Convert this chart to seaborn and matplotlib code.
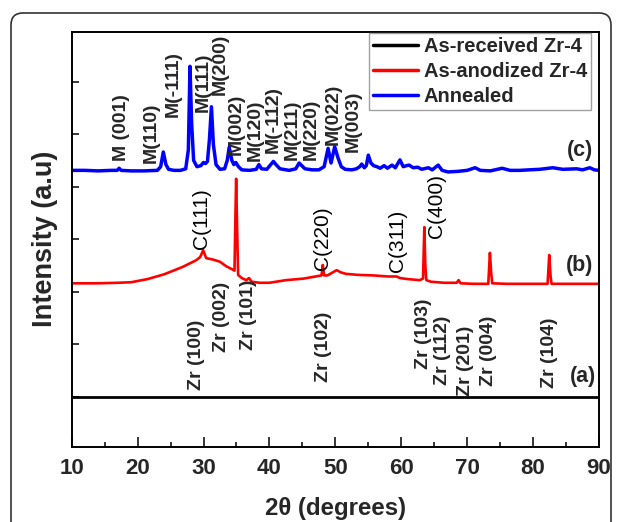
import numpy as np
import pandas as pd
import matplotlib
matplotlib.use("Agg")
import matplotlib.pyplot as plt
from matplotlib.patches import FancyBboxPatch
import seaborn as sns

# ---------------- data ----------------
black_x = [10, 90]
black_y = [1.0, 1.0]

red_x = [10, 14, 17, 19, 21.5, 24, 26.8, 28.9, 29.5, 29.95, 30.4, 31.5, 32.5, 33.5, 34.3, 34.7,
         34.85, 34.95, 35.1, 35.25, 35.8, 36.5, 36.9, 37.3, 38.5, 40, 42.5, 45.2, 47.9, 48.1,
         48.3, 48.8, 49.5, 50.2, 50.8, 51.6, 53.5, 55.8, 58, 59.3, 59.8, 61, 62.8, 63.3, 63.5,
         63.65, 63.8, 64.5, 66.5, 68.4, 68.7, 69.0, 71, 73.2, 73.45, 73.65, 73.8, 76, 78, 82.2,
         82.45, 82.65, 82.8, 85, 90]
red_y = [3.16, 3.16, 3.17, 3.18, 3.24, 3.33, 3.47, 3.60, 3.66, 3.79, 3.64, 3.61, 3.57, 3.48, 3.43, 3.40,
         4.5, 5.15, 4.2, 3.32, 3.26, 3.22, 3.26, 3.19, 3.17, 3.17, 3.22, 3.25, 3.31, 3.51,
         3.31, 3.31, 3.36, 3.41, 3.37, 3.34, 3.32, 3.31, 3.29, 3.29, 3.26, 3.24, 3.22, 3.25, 4.23,
         3.5, 3.22, 3.19, 3.17, 3.17, 3.22, 3.16, 3.15, 3.15, 3.74, 3.35, 3.16, 3.15, 3.15, 3.15,
         3.70, 3.30, 3.15, 3.15, 3.15]

blue_x = [10, 12, 14, 16, 16.9, 17.2, 17.5, 19, 21, 23.0, 23.5, 23.9, 24.3, 24.7, 25.5, 26.5, 27.3,
          27.7, 27.95, 28.2, 28.5, 29.0, 29.6, 30.0, 30.3, 30.6, 30.9, 31.2, 31.5, 31.9, 32.5, 33.2,
          33.6, 33.9, 34.3, 34.6, 34.9, 35.3, 35.8, 37, 38.0, 38.4, 38.8, 39.6, 40.2, 40.6, 41.0,
          41.6, 43, 44.0, 44.5, 44.9, 45.4, 46.5, 47.5, 48.3, 48.9, 49.35, 49.9, 50.4, 50.9, 51.5,
          52.5, 53.2, 53.7, 54.0, 54.4, 54.7, 55.0, 55.4, 55.8, 56.3, 56.8, 57.4, 57.9, 58.6, 59.1,
          59.8, 60.3, 60.8, 61.2, 61.8, 62.5, 63.1, 64.1, 64.7, 65.6, 66.2, 67.1, 68.5, 70, 71.2,
          72, 73.5, 75.3, 76.5, 78, 79.4, 81, 83, 84.5, 86.6, 87.5, 88.6, 89.3, 90]
blue_y = [5.31, 5.31, 5.30, 5.31, 5.31, 5.35, 5.31, 5.30, 5.30, 5.31, 5.38, 5.66, 5.42, 5.33, 5.31, 5.31, 5.34,
          5.70, 7.29, 6.20, 5.50, 5.38, 5.40, 5.46, 5.44, 5.48, 5.90, 6.52, 5.80, 5.42, 5.33, 5.34,
          5.50, 5.75, 5.50, 5.42, 5.46, 5.38, 5.32, 5.31, 5.33, 5.42, 5.34, 5.33, 5.42, 5.48, 5.42,
          5.34, 5.31, 5.34, 5.45, 5.40, 5.34, 5.32, 5.32, 5.38, 5.73, 5.45, 5.76, 5.55, 5.38, 5.33,
          5.32, 5.34, 5.38, 5.43, 5.36, 5.40, 5.60, 5.45, 5.40, 5.38, 5.35, 5.40, 5.35, 5.41, 5.36,
          5.51, 5.38, 5.40, 5.41, 5.36, 5.37, 5.33, 5.36, 5.32, 5.41, 5.31, 5.28, 5.29, 5.31, 5.36,
          5.31, 5.30, 5.35, 5.31, 5.31, 5.32, 5.33, 5.36, 5.33, 5.34, 5.32, 5.36, 5.32, 5.31]

series_names = ["As-received Zr-4", "As-anodized Zr-4", "Annealed"]
series_colors = ["#000000", "#ff0000", "#0000ff"]

# peak labels: text, x (2theta), y (bottom of label)
m_labels = ["M (001)", "M(110)", "M(-111)", "M(111)", "M(200)", "M(002)", "M(120)",
            "M(-112)", "M(211)", "M(220)", "M(022)", "M(003)"]
m_x = [17.6, 22.1, 25.4, 29.9, 32.5, 35.0, 37.8, 40.6, 43.5, 46.3, 49.7, 52.7]
m_y = [5.48, 5.45, 6.33, 6.43, 6.75, 5.60, 5.48, 5.64, 5.51, 5.51, 5.79, 5.66]

c_labels = ["C(111)", "C(220)", "C(311)", "C(400)"]
c_x = [29.75, 48.1, 59.4, 65.4]
c_y = [3.82, 3.41, 3.38, 4.03]

zr_labels = ["Zr (100)", "Zr (002)", "Zr (101)", "Zr (102)", "Zr (103)", "Zr (112)",
             "Zr (201)", "Zr (004)", "Zr (104)"]
zr_x = [28.97, 32.8, 36.8, 48.2, 63.3, 66.3, 69.8, 73.3, 82.5]
zr_y = [1.13, 1.86, 1.89, 1.29, 1.52, 1.23, 1.01, 1.20, 1.17]

tags = ["(c)", "(b)", "(a)"]
tag_x = [87.1, 87.1, 87.6]
tag_y = [5.68, 3.49, 1.39]

x_ticks = [10, 20, 30, 40, 50, 60, 70, 80, 90]

# ---------------- plotting ----------------
sns.set_theme(style="ticks")
plt.rcParams["font.family"] = ["Liberation Sans", "DejaVu Sans"]

fig = plt.figure(figsize=(6.19, 5.22), dpi=100)
ax = fig.add_axes([0.1158, 0.1443, 0.9677 - 0.1158, 0.9393 - 0.1443])

df = pd.concat([
    pd.DataFrame({"x": black_x, "y": black_y, "s": series_names[0]}),
    pd.DataFrame({"x": red_x, "y": red_y, "s": series_names[1]}),
    pd.DataFrame({"x": blue_x, "y": blue_y, "s": series_names[2]}),
])
widths = [2.0, 1.9, 2.5]
for name, col, lw in zip(series_names, series_colors, widths):
    sub = df[df["s"] == name]
    sns.lineplot(data=sub, x="x", y="y", color=col, lw=lw, ax=ax, label=name,
                 estimator=None, sort=False)

ax.set_xlim(10, 90)
ax.set_ylim(0.05, 7.95)
ax.set_xticks(x_ticks)
ax.set_xticks(np.arange(15, 90, 10), minor=True)
ax.set_yticks([1, 2, 3, 4, 5, 6, 7])
ax.set_yticklabels([])
ax.tick_params(axis="x", which="major", direction="in", length=7, width=1.3,
               labelsize=16, pad=8, top=False)
ax.tick_params(axis="x", which="minor", direction="in", length=3.5, width=1.3, top=False)
ax.tick_params(axis="y", direction="in", length=5, width=1.3, right=False)
for lab in ax.get_xticklabels():
    lab.set_fontweight("bold")
for sp in ax.spines.values():
    sp.set_linewidth(1.4)
    sp.set_color("black")
    sp.set_visible(True)

ax.set_xlabel("2θ (degrees)", fontsize=17.3, fontweight="bold", labelpad=13)
ax.set_ylabel("Intensity (a.u)", fontsize=19.5, fontweight="bold", labelpad=6)

for t, x, y in zip(m_labels, m_x, m_y):
    ax.text(x, y, t, rotation=90, ha="center", va="bottom", fontsize=14, fontweight="bold")
for t, x, y in zip(c_labels, c_x, c_y):
    ax.text(x, y, t, rotation=90, ha="center", va="bottom", fontsize=15, color="black")
for t, x, y in zip(zr_labels, zr_x, zr_y):
    ax.text(x, y, t, rotation=90, ha="center", va="bottom", fontsize=14, fontweight="bold")
for t, x, y in zip(tags, tag_x, tag_y):
    ax.text(x, y, t, ha="center", va="center", fontsize=15.5, fontweight="bold")

leg = ax.legend(loc="upper right", bbox_to_anchor=(0.985, 0.997), borderaxespad=0,
                fontsize=14.5, handlelength=2.2, handletextpad=0.3, labelspacing=0.3,
                fancybox=False, frameon=True, borderpad=0.2)
leg.get_frame().set_edgecolor("#888888")
leg.get_frame().set_linewidth(1.0)
for txt in leg.get_texts():
    txt.set_fontweight("bold")
for line in leg.get_lines():
    line.set_linewidth(2.5)

# rounded outer frame of the figure panel
frame = FancyBboxPatch((11, -30), 600, 509 + 30, boxstyle="round,pad=0,rounding_size=12",
                       transform=None, fill=False, edgecolor="#333333", linewidth=1.2)
fig.patches.append(frame)

fig.savefig("out.png", dpi=100)
